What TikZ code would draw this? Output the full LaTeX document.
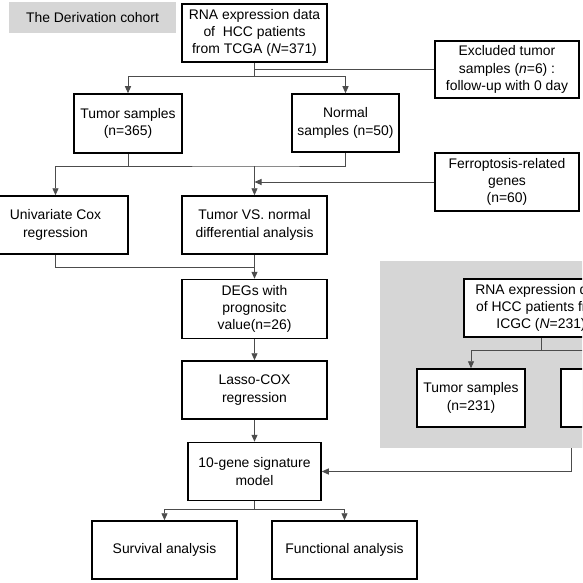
\documentclass[tikz,border=0pt]{standalone}
\usepackage{fontspec}
\setmainfont{Liberation Sans}
\usepackage{tikz}
\usetikzlibrary{positioning}
\usetikzlibrary{shapes, arrows, arrows.meta}
\definecolor{cohortgray}{RGB}{214,214,214}
\tikzset{
    auto,node distance =22pt and 22pt,% vertical gap between the boxes of the main column
    box/.style={draw,line width=1.5pt,fill=white,align=center,inner sep=2pt,
        minimum width=145pt,minimum height=58pt,font=\fontsize{13.9}{17.3}\selectfont},
    conn/.style={line width=0.9pt,draw=black!70},
    arr/.style={conn,-{Triangle[length=7pt,width=6pt]}},
}

\begin{document}
\begin{tikzpicture}[x=1pt,y=-1pt]
    \useasboundingbox (0,0) rectangle (582,583);
    \clip (0,0) rectangle (582,583);
    % validation cohort panel
    \node(icgcpanel) [fill=cohortgray,minimum width=320pt,minimum height=187pt,inner sep=0pt] at (540,354.5) {};
    \node(title) [fill=cohortgray,minimum width=167pt,minimum height=31pt,inner sep=0pt,
        font=\fontsize{13.9}{17.3}\selectfont] at (92.5,17.5) {The Derivation cohort};
    % derivation cohort
    \node(tcga) [box] at (254.5,33) {RNA expression data\\of\ \ HCC patients\\from TCGA (\textit{N}=371)};
    \node(excl) [box,minimum width=144pt,minimum height=57pt] at (507,69.5) {Excluded tumor\\samples (\textit{n}=6) :\\follow-up with 0 day};
    \node(tumor) [box,minimum width=108pt,minimum height=59pt] at (128,123.5) {Tumor samples\\(n=365)};
    \node(normal) [box,minimum width=107pt] at (345.5,123) {Normal\\samples (n=50)};
    \node(ferro) [box,minimum width=144pt] at (507,182) {Ferroptosis-related\\genes\\(n=60)};
    \node(univ) [box] at (55.5,225) {Univariate Cox\\regression};
    \node(tvn) [box] at (254.5,225) {Tumor VS. normal\\differential analysis};
    \node(degs) [box,minimum height=59pt,below=24pt of tvn] {DEGs with\\prognositc\\value(n=26)};
    \node(lasso) [box,below=21pt of degs] {Lasso-COX\\regression};
    \node(sig) [box,minimum width=133pt,below=of lasso] {10-gene signature\\model};
    \node(surv) [box] at (164.5,550) {Survival analysis};
    \node(func) [box] at (344.5,550) {Functional analysis};
    % validation cohort
    \node(icgc) [box,minimum width=154pt] at (541,308) {RNA expression data\\of HCC patients from\\ICGC (\textit{N}=231)};
    \node(tumoricgc) [box,minimum width=108pt] at (471,398) {Tumor samples\\(n=231)};
    \node(normalicgc) [box,minimum width=108pt] at (615,398) {};

    \coordinate (j1) at (254.5,76);
    \coordinate (j2) at (254.5,166);
    \coordinate (j3) at (254.5,267);
    \coordinate (j4) at (254.5,509);
    \coordinate (j5) at (541,350);
    \coordinate (paneltap) at (571,448);

    \draw[conn] (tcga.south) -- (j1);
    \draw[arr] (j1) -| (tumor.north);
    \draw[arr] (j1) -| (normal.north);
    \draw[conn] (excl.west) -- (excl.west -| tcga.south);
    \draw[conn] (tumor.south) |- (j2) -| (normal.south);
    \draw[arr] (tumor.south |- j2) -| (univ.north);
    \draw[arr] (j2) -- (tvn.north);
    \draw[arr] (ferro.west) -- (ferro.west -| tvn.north);
    \draw[arr] (univ.south) |- (j3) -- (degs.north);
    \draw[conn] (tvn.south) -- (j3);
    \draw[arr] (degs) -- (lasso);
    \draw[arr] (lasso) -- (sig);
    \draw[conn] (sig.south) -- (j4);
    \draw[arr] (j4) -| (surv.north);
    \draw[arr] (j4) -| (func.north);
    \draw[conn] (icgc.south) -- (j5);
    \draw[arr] (j5) -| (tumoricgc.north);
    \draw[arr] (j5) -| (normalicgc.north);
    \draw[arr] (paneltap) |- (sig.east);
\end{tikzpicture}
\end{document}
